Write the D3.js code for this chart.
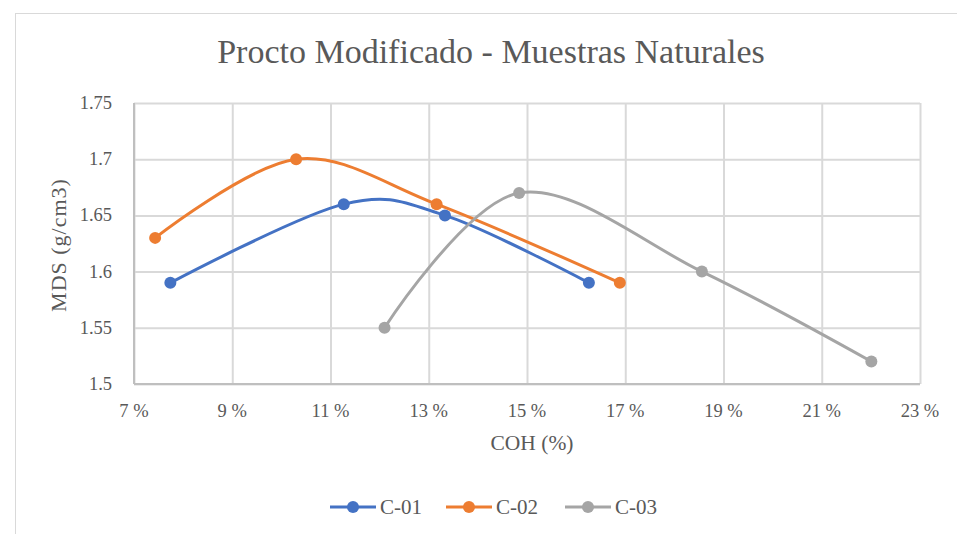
<!DOCTYPE html>
<html>
<head>
<meta charset="utf-8">
<script src="https://cdnjs.cloudflare.com/ajax/libs/d3/7.8.5/d3.min.js"></script>
<style>
  body { margin: 0; background: #fff; }
  svg text { font-family: "Liberation Serif", "Times New Roman", serif; fill: #595959; }
</style>
</head>
<body>
<div id="chart"></div>
<script>
// series values (COH %, MDS g/cm3)
var seriesNames = ["C-01", "C-02", "C-03"];
var seriesColors = ["#4472c4", "#ed7d31", "#a5a5a5"];
var c01 = [[7.74, 1.59], [11.27, 1.66], [13.33, 1.65], [16.26, 1.59]];
var c02 = [[7.43, 1.63], [10.30, 1.70], [13.16, 1.66], [16.89, 1.59]];
var c03 = [[12.10, 1.55], [14.84, 1.67], [18.56, 1.60], [22.01, 1.52]];
var xTicks = [7, 9, 11, 13, 15, 17, 19, 21, 23];
var yTicks = [1.5, 1.55, 1.6, 1.65, 1.7, 1.75];

var W = 957, H = 534;
var margin = { left: 134, right: 37, top: 103, bottom: 150 };

var svg = d3.select("#chart").append("svg")
    .attr("width", W)
    .attr("height", H);

// chart frame
svg.append("rect")
    .attr("x", 15.5).attr("y", 13.5)
    .attr("width", W).attr("height", H)
    .attr("fill", "#fff")
    .attr("stroke", "#d9d9d9");

var x = d3.scaleLinear().domain([7, 23]).range([margin.left, W - margin.right]);
var y = d3.scaleLinear().domain([1.5, 1.75]).range([H - margin.bottom, margin.top]);

// gridlines
svg.append("g")
    .attr("transform", "translate(0," + (H - margin.bottom) + ")")
    .call(d3.axisBottom(x).tickValues(xTicks).tickSize(-(y.range()[0] - y.range()[1])).tickFormat(""))
    .call(function(g) { g.select(".domain").remove(); })
    .selectAll("line").attr("stroke", "#d9d9d9").attr("stroke-width", 2);

svg.append("g")
    .attr("transform", "translate(" + margin.left + ",0)")
    .call(d3.axisLeft(y).tickValues(yTicks).tickSize(-(x.range()[1] - x.range()[0])).tickFormat(""))
    .call(function(g) { g.select(".domain").remove(); })
    .selectAll("line").attr("stroke", "#d9d9d9").attr("stroke-width", 2);

// axes lines
svg.append("line")
    .attr("x1", margin.left).attr("x2", margin.left)
    .attr("y1", y(1.75)).attr("y2", y(1.5))
    .attr("stroke", "#bfbfbf").attr("stroke-width", 2);
svg.append("line")
    .attr("x1", margin.left).attr("x2", x(23))
    .attr("y1", y(1.5)).attr("y2", y(1.5))
    .attr("stroke", "#bfbfbf").attr("stroke-width", 2);

// tick labels
svg.append("g").selectAll("text")
    .data(xTicks).enter().append("text")
    .attr("x", function(d) { return x(d); })
    .attr("y", y(1.5) + 33)
    .attr("text-anchor", "middle")
    .attr("font-size", 18.5)
    .text(function(d) { return d + " %"; });

svg.append("g").selectAll("text")
    .data(yTicks).enter().append("text")
    .attr("x", margin.left - 22)
    .attr("y", function(d) { return y(d) + 6; })
    .attr("text-anchor", "end")
    .attr("font-size", 18.5)
    .text(function(d) { return String(d); });

// title + axis titles
svg.append("text")
    .attr("x", 491).attr("y", 63)
    .attr("text-anchor", "middle")
    .attr("font-family", "Liberation Serif")
    .attr("font-size", 34)
    .text("Procto Modificado - Muestras Naturales");

svg.append("text")
    .attr("x", 532).attr("y", 450)
    .attr("text-anchor", "middle")
    .attr("font-size", 21.5)
    .text("COH (%)");

svg.append("text")
    .attr("transform", "translate(66,245) rotate(-90)")
    .attr("text-anchor", "middle")
    .attr("font-size", 22)
    .attr("letter-spacing", 1)
    .text("MDS (g/cm3)");

// series
var line = d3.line()
    .x(function(d) { return x(d[0]); })
    .y(function(d) { return y(d[1]); })
    .curve(d3.curveCardinal.tension(0));

var allSeries = [c01, c02, c03];
allSeries.forEach(function(data, i) {
    svg.append("path")
        .datum(data)
        .attr("d", line)
        .attr("fill", "none")
        .attr("stroke", seriesColors[i])
        .attr("stroke-width", 3)
        .attr("stroke-linecap", "round");
    svg.append("g").selectAll("circle")
        .data(data).enter().append("circle")
        .attr("cx", function(d) { return x(d[0]); })
        .attr("cy", function(d) { return y(d[1]); })
        .attr("r", 6)
        .attr("fill", seriesColors[i]);
});

// legend
var legendX = [330, 446, 565];
var legend = svg.append("g");
seriesNames.forEach(function(name, i) {
    var lx = legendX[i], ly = 507;
    legend.append("line")
        .attr("x1", lx).attr("x2", lx + 46)
        .attr("y1", ly).attr("y2", ly)
        .attr("stroke", seriesColors[i]).attr("stroke-width", 3);
    legend.append("circle")
        .attr("cx", lx + 23).attr("cy", ly).attr("r", 6)
        .attr("fill", seriesColors[i]);
    legend.append("text")
        .attr("x", lx + 50).attr("y", ly + 7)
        .attr("font-size", 21)
        .text(name);
});
</script>
</body>
</html>
